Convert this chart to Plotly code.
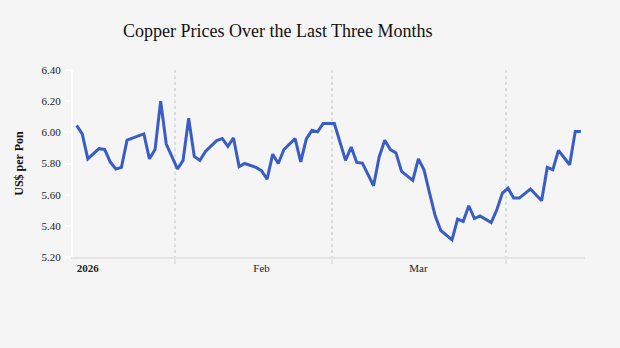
import plotly.graph_objects as go
import pandas as pd

# Day offsets from 2025-12-30 and copper prices (US$ per pound)
day_offsets = [0, 1, 2, 4, 5, 6, 7, 8, 9, 12, 13, 14, 15, 16, 18, 19, 20, 21, 22, 23,
               25, 26, 27, 28, 29, 30, 32, 33, 34, 35, 36, 37, 39, 40, 41, 42, 43, 44, 46,
               48, 49, 50, 51, 53, 54, 55, 56, 57, 58, 60, 61, 62, 63, 64, 65, 67, 68, 69,
               70, 71, 72, 74, 75, 76, 77, 78, 79, 81, 83, 84, 85, 86, 88, 89, 90]
prices = [6.045, 5.99, 5.83, 5.895, 5.89, 5.81, 5.765, 5.775, 5.95, 5.99, 5.83, 5.89, 6.20,
          5.925, 5.765, 5.82, 6.09, 5.845, 5.82, 5.878, 5.947, 5.96, 5.91, 5.964, 5.78, 5.80,
          5.775, 5.754, 5.70, 5.86, 5.80, 5.89, 5.96, 5.81, 5.958, 6.013, 6.003, 6.056, 6.056,
          5.82, 5.906, 5.807, 5.803, 5.657, 5.842, 5.949, 5.889, 5.868, 5.749, 5.691, 5.829,
          5.76, 5.61, 5.464, 5.37, 5.31, 5.443, 5.428, 5.529, 5.447, 5.464, 5.421, 5.503,
          5.61, 5.642, 5.578, 5.578, 5.636, 5.561, 5.775, 5.76, 5.884, 5.792, 6.006, 6.006]
start_date = "2025-12-30"

tick_dates = ["2026-01-01", "2026-02-01", "2026-03-01"]
tick_labels = ["<b>2026</b>", "Feb", "Mar"]
grid_dates = ["2026-01-16 14:00", "2026-02-13 14:00", "2026-03-16 16:00"]
y_ticks = [5.2, 5.4, 5.6, 5.8, 6.0, 6.2, 6.4]

dates = pd.to_datetime(start_date) + pd.to_timedelta(day_offsets, unit="D")

fig = go.Figure()
fig.add_trace(go.Scatter(
    x=dates, y=prices, mode="lines",
    line=dict(color="#3a5cc5", width=3),
    hoverinfo="skip", showlegend=False,
))

font_family = "Liberation Serif, Times New Roman, serif"
fig.update_layout(
    width=620, height=348,
    margin=dict(l=73, r=35, t=70, b=91),
    paper_bgcolor="#f5f5f5", plot_bgcolor="#f5f5f5",
    font=dict(family=font_family, size=11, color="#222"),
    title=dict(text="Copper Prices Over the Last Three Months",
               x=123/620, xanchor="left", y=1 - 37/348, yanchor="bottom",
               font=dict(family=font_family, size=18, color="#111")),
)
fig.update_xaxes(
    type="date",
    range=["2025-12-29 08:30", "2026-03-30 17:45"],
    tickmode="array", tickvals=tick_dates, ticktext=tick_labels,
    ticks="", showgrid=False, zeroline=False,
    showline=True, linecolor="#e4e4e4", linewidth=2,
    tickfont=dict(family=font_family, size=11, color="#222"),
    minor=dict(tickmode="array", tickvals=grid_dates, showgrid=True,
               gridcolor="#dcdcdc", griddash="dot", gridwidth=2,
               ticks="outside", ticklen=5, tickcolor="#e4e4e4", tickwidth=2),
)
fig.update_yaxes(
    range=[5.2, 6.4], tickmode="array", tickvals=y_ticks, tickformat=".2f",
    showgrid=False, zeroline=False,
    showline=True, linecolor="white", linewidth=2,
    ticks="outside", ticklen=6, tickcolor="white", tickwidth=2,
    ticklabelstandoff=2,
    tickfont=dict(family=font_family, size=11, color="#222"),
    title=dict(text="<b>US$ per Pon</b>", font=dict(family=font_family, size=12, color="#111")),
)

fig.write_html("out.html")
